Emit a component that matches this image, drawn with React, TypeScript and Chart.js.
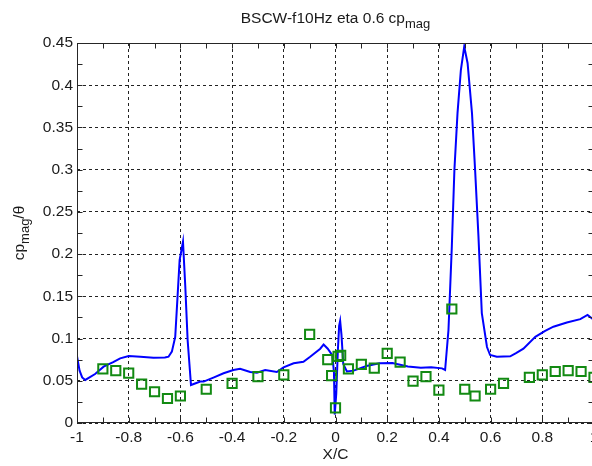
import React, { useEffect, useRef } from 'react';
import { Chart, registerables } from 'chart.js';

Chart.register(...registerables);

// ---- Data ----
const curveX = [
  -1.0, -0.99, -0.98, -0.968, -0.93, -0.897, -0.86, -0.833, -0.8, -0.755, -0.704, -0.66, -0.646,
  -0.633, -0.62, -0.611, -0.603, -0.59, -0.581, -0.572, -0.559, -0.523, -0.51, -0.47, -0.433,
  -0.395, -0.369, -0.33, -0.304, -0.272, -0.227, -0.201, -0.162, -0.124, -0.098, -0.059, -0.046,
  -0.03, -0.012, -0.006, -0.003, 0.003, 0.009, 0.014, 0.018, 0.023, 0.03, 0.044, 0.07, 0.12, 0.17,
  0.22, 0.28, 0.33, 0.37, 0.412, 0.424, 0.437, 0.45, 0.46, 0.472, 0.485, 0.498, 0.511, 0.528,
  0.54, 0.553, 0.566, 0.586, 0.598, 0.624, 0.676, 0.7, 0.727, 0.773, 0.811, 0.843, 0.895, 0.947,
  0.975, 1.0,
];
const curveY = [
  0.079, 0.062, 0.054, 0.051, 0.058, 0.0667, 0.072, 0.0766, 0.0793, 0.0785, 0.0774, 0.0776, 0.0785,
  0.0845, 0.102, 0.15, 0.193, 0.2147, 0.161, 0.098, 0.045, 0.049, 0.049, 0.054, 0.0589,
  0.0628, 0.0643, 0.0604, 0.0596, 0.0628, 0.0604, 0.066, 0.0707, 0.0726, 0.0785, 0.088, 0.093,
  0.088, 0.08, 0.06, 0.01, 0.035, 0.085, 0.115, 0.121, 0.105, 0.07, 0.061, 0.062, 0.0675, 0.0707,
  0.071, 0.067, 0.0655, 0.066, 0.0647, 0.0628, 0.11, 0.209, 0.3, 0.367, 0.418, 0.4457, 0.426, 0.367,
  0.3, 0.221, 0.13, 0.09, 0.0805, 0.0785, 0.079, 0.083, 0.088, 0.102, 0.109, 0.114, 0.119, 0.123,
  0.128, 0.122,
];

const expX = [
  -0.9, -0.85, -0.8, -0.75, -0.7, -0.65, -0.6, -0.5, -0.4, -0.3, -0.2, -0.1, -0.03, -0.015, 0.0,
  0.01, 0.02, 0.05, 0.1, 0.15, 0.2, 0.25, 0.3, 0.35, 0.4, 0.45, 0.5, 0.54, 0.6, 0.65, 0.75, 0.8,
  0.85, 0.9, 0.95, 1.0,
];
const expY = [
  0.064, 0.062, 0.059, 0.046, 0.037, 0.029, 0.032, 0.04, 0.047, 0.055, 0.057, 0.105, 0.075, 0.056, 0.018,
  0.079, 0.08, 0.064, 0.0695, 0.065, 0.0825, 0.072, 0.0497, 0.055, 0.039, 0.135, 0.04, 0.032, 0.04, 0.047, 0.054, 0.057,
  0.061, 0.062, 0.061, 0.054,
];

const xTickValues = [-1, -0.8, -0.6, -0.4, -0.2, 0, 0.2, 0.4, 0.6, 0.8, 1];
const xTickLabels = ['-1', '-0.8', '-0.6', '-0.4', '-0.2', '0', '0.2', '0.4', '0.6', '0.8', '1'];
const yTickValues = [0, 0.05, 0.1, 0.15, 0.2, 0.25, 0.3, 0.35, 0.4, 0.45];
const yTickLabels = ['0', '0.05', '0.1', '0.15', '0.2', '0.25', '0.3', '0.35', '0.4', '0.45'];

const titleParts = [
  { text: 'BSCW-f10Hz eta 0.6 cp', sub: false },
  { text: 'mag', sub: true },
];
const yLabelParts = [
  { text: 'cp', sub: false },
  { text: 'mag', sub: true },
  { text: '/\u03B8', sub: false },
];
const xLabelParts = [{ text: 'X/C', sub: false }];

const FONT = '"Liberation Sans", Arial, sans-serif';
const TEXT_COLOR = '#1a1a1a';

function drawRich(
  ctx: CanvasRenderingContext2D,
  parts: { text: string; sub: boolean }[],
  cx: number,
  cy: number,
  size: number,
  subSize: number,
  rot: number
) {
  ctx.save();
  ctx.translate(cx, cy);
  ctx.rotate(rot);
  ctx.fillStyle = TEXT_COLOR;
  ctx.textBaseline = 'alphabetic';
  ctx.textAlign = 'left';
  const widths = parts.map((p) => {
    ctx.font = `${p.sub ? subSize : size}px ${FONT}`;
    return ctx.measureText(p.text).width;
  });
  const total = widths.reduce((a, b) => a + b, 0);
  let x = -total / 2;
  parts.forEach((p, i) => {
    ctx.font = `${p.sub ? subSize : size}px ${FONT}`;
    ctx.fillText(p.text, x, p.sub ? 5 : 0);
    x += widths[i];
  });
  ctx.restore();
}

const decorPlugin = {
  id: 'decor',
  afterDraw(chart: any) {
    const ctx: CanvasRenderingContext2D = chart.ctx;
    const { left, right, top, bottom } = chart.chartArea;
    const xs = chart.scales.x;
    const ys = chart.scales.y;
    const L = Math.round(left) + 0.5;
    const R = Math.round(right) - 0.5;
    const T = Math.round(top) + 0.5;
    const B = Math.round(bottom) - 0.5;
    ctx.save();
    ctx.strokeStyle = '#262626';
    ctx.lineWidth = 1;
    ctx.setLineDash([]);
    ctx.beginPath();
    ctx.rect(L, T, R - L, B - T);
    ctx.stroke();
    const tl = 5;
    ctx.beginPath();
    for (let i = 0; i <= 20; i++) {
      const v = -1 + i * 0.1;
      const px = Math.round(xs.getPixelForValue(v)) + 0.5;
      ctx.moveTo(px, B);
      ctx.lineTo(px, B - tl);
      ctx.moveTo(px, T);
      ctx.lineTo(px, T + tl);
    }
    for (let i = 0; i <= 18; i++) {
      const v = i * 0.025;
      const py = Math.round(ys.getPixelForValue(v)) + 0.5;
      ctx.moveTo(L, py);
      ctx.lineTo(L + tl, py);
      ctx.moveTo(R, py);
      ctx.lineTo(R - tl, py);
    }
    ctx.stroke();
    ctx.restore();

    const cxp = (left + right) / 2;
    drawRich(ctx, titleParts, cxp, 23, 15.5, 13, 0);
    drawRich(ctx, xLabelParts, cxp, 459, 15.5, 13, 0);
    drawRich(ctx, yLabelParts, 24, (top + bottom) / 2, 15.5, 13, -Math.PI / 2);
  },
};

export default function App() {
  const ref = useRef<HTMLCanvasElement | null>(null);
  useEffect(() => {
    if (!ref.current) return;
    const chart = new Chart(ref.current, {
      type: 'scatter',
      data: {
        datasets: [
          {
            label: 'CFD',
            data: curveX.map((x, i) => ({ x, y: curveY[i] })),
            showLine: true,
            borderColor: '#0000ff',
            borderWidth: 2,
            pointRadius: 0,
            tension: 0,
            order: 2,
          },
          {
            label: 'Experiment',
            data: expX.map((x, i) => ({ x, y: expY[i] })),
            showLine: false,
            pointStyle: 'rect',
            pointRadius: 6.5,
            pointBorderWidth: 2,
            borderColor: '#128a12',
            pointBorderColor: '#128a12',
            backgroundColor: 'rgba(0,0,0,0)',
            pointBackgroundColor: 'rgba(0,0,0,0)',
            order: 1,
          },
        ],
      },
      options: {
        responsive: false,
        animation: false,
        devicePixelRatio: 1,
        layout: { padding: { top: 43, left: 0, right: 16, bottom: 0 } },
        plugins: {
          legend: { display: false },
          tooltip: { enabled: false },
          title: { display: false },
        },
        scales: {
          x: {
            type: 'linear',
            min: -1,
            max: 1,
            afterBuildTicks: (s: any) => {
              s.ticks = xTickValues.map((v) => ({ value: v }));
            },
            afterFit: (s: any) => {
              s.height = 43;
            },
            ticks: {
              callback: (v: any) => {
                const i = xTickValues.findIndex((t) => Math.abs(t - v) < 1e-9);
                return i >= 0 ? xTickLabels[i] : '';
              },
              font: { family: FONT, size: 15.5 },
              color: TEXT_COLOR,
              padding: 5,
              maxRotation: 0,
              autoSkip: false,
            },
            grid: { color: '#222', lineWidth: 1, drawTicks: false },
            border: { display: false, dash: [3, 3] },
          },
          y: {
            type: 'linear',
            min: 0,
            max: 0.45,
            afterBuildTicks: (s: any) => {
              s.ticks = yTickValues.map((v) => ({ value: v }));
            },
            afterFit: (s: any) => {
              s.width = 77;
            },
            ticks: {
              callback: (v: any) => {
                const i = yTickValues.findIndex((t) => Math.abs(t - v) < 1e-9);
                return i >= 0 ? yTickLabels[i] : '';
              },
              font: { family: FONT, size: 15.5 },
              color: TEXT_COLOR,
              padding: 4,
              autoSkip: false,
            },
            grid: { color: '#222', lineWidth: 1, drawTicks: false },
            border: { display: false, dash: [3, 3] },
          },
        },
      },
      plugins: [decorPlugin],
    } as any);
    return () => chart.destroy();
  }, []);
  return (
    <div style={{ position: 'fixed', left: 0, top: 0, width: 610, height: 466, background: '#fff' }}>
      <canvas ref={ref} width={610} height={466} style={{ width: 610, height: 466 }} />
    </div>
  );
}
